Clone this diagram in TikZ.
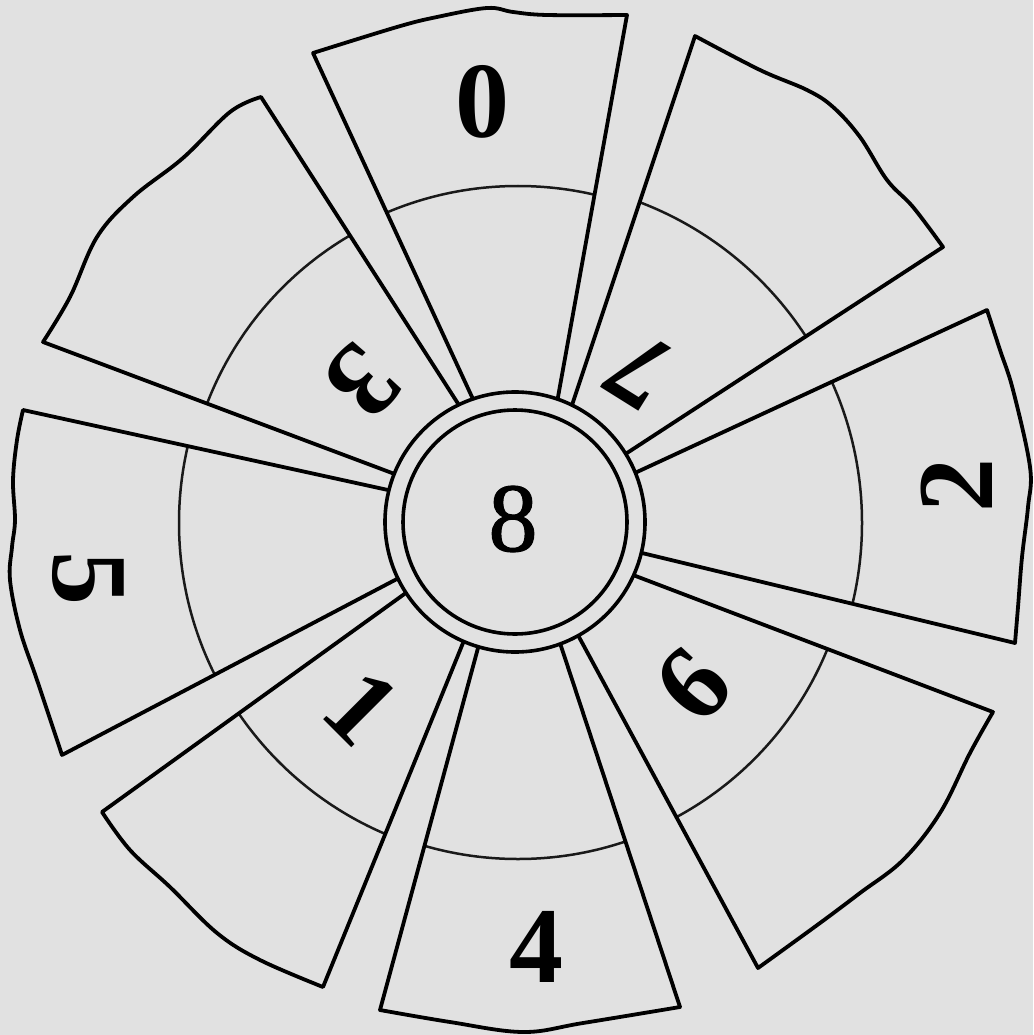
\documentclass[tikz,border=0pt]{standalone}
\usepackage{fontspec}
\setmainfont{Liberation Serif}
\newfontfamily\midfont[FakeBold=1.2]{Liberation Serif}
\usetikzlibrary{calc}
\definecolor{bg}{RGB}{225,225,225}
\newcommand\mysector[6]{%
  \begin{scope}
    \clip ($(#2)!1.08!(#1)$) -- plot[smooth, tension=0.6] coordinates {(#2) #3 (#4)} -- ($(#4)!1.08!(#5)$) -- cycle;
    \draw[midarc] (M) circle[radius=#6pt];
  \end{scope}
  \draw[edge] ($(#2)!1.08!(#1)$) -- plot[smooth, tension=0.6] coordinates {(#2) #3 (#4)} -- ($(#4)!1.08!(#5)$);
}
\begin{document}
\begin{tikzpicture}[x=1pt,y=-1pt,
  edge/.style={line width=3.8pt, line join=round, line cap=round, draw=black},
  midarc/.style={line width=2.5pt, draw=black!90},
  ringline/.style={line width=3.6pt, draw=black},
  digit/.style={inner sep=0pt, font=\fontsize{108}{108}\selectfont\bfseries},
  centerdigit/.style={inner sep=0pt, font=\fontsize{98}{98}\selectfont\midfont}]
\fill[bg] (0,0) rectangle (1033,1035);
\useasboundingbox (0,0) rectangle (1033,1035);
\coordinate (C) at (515,522);
\coordinate (M) at (518,523);
% sector 0 (top)
\mysector{472,397}{313,53}{(397,27) (437,17) (487,8) (513,12) (547,15)}{627,15}{558,397}{337}
% sector 7
\mysector{573,402}{695,36}{(760,70) (807,90) (833,107) (860,137) (887,180) (913,207)}{943,247}{627,453}{343}
% sector 2
\mysector{637,472}{987,310}{(1000,350) (1013,390) (1030,467) (1028,507) (1022,557) (1018,607)}{1015,643}{642,553}{344}
% sector 6
\mysector{633,575}{993,712}{(970,753) (940,813) (903,860) (860,893) (820,923)}{758,968}{579,637}{334}
% sector 4
\mysector{560,643}{680,1007}{(583,1023) (523,1032) (450,1022)}{380,1010}{478,648}{336}
% sector 1
\mysector{463,643}{323,987}{(260,960) (217,933) (170,887) (130,850)}{102,812}{403,595}{338}
% sector 5
\mysector{395,580}{62,755}{(37,680) (20,630) (10,580) (12,547) (15,520) (13,480) (17,440)}{23,410}{388,490}{339}
% sector 3
\mysector{392,473}{43,342}{(70,297) (97,237) (133,197) (183,158) (230,112)}{261,97}{457,402}{333}
% central ring
\fill[bg] (C) circle[radius=130pt];
\draw[ringline] (C) circle[radius=130pt];
\draw[ringline] (C) circle[radius=112pt];
% digits
\node[centerdigit] (d8) at (513,519) {8};
\node[digit, rotate=180] (d0) at (482,102) {0};
\node[digit, rotate=148] (d7) at (640,370) {7};
\node[digit, rotate=90] (d2) at (957,485) {2};
\node[digit, rotate=47] (d6) at (693,685) {6};
\node[digit] (d4) at (536,947) {4};
\node[digit, rotate=-45] (d1) at (362,707) {1};
\node[digit, rotate=-90] (d5) at (88,578) {5};
\node[digit, rotate=-133] (d3) at (363,381) {3};
\end{tikzpicture}
\end{document}
